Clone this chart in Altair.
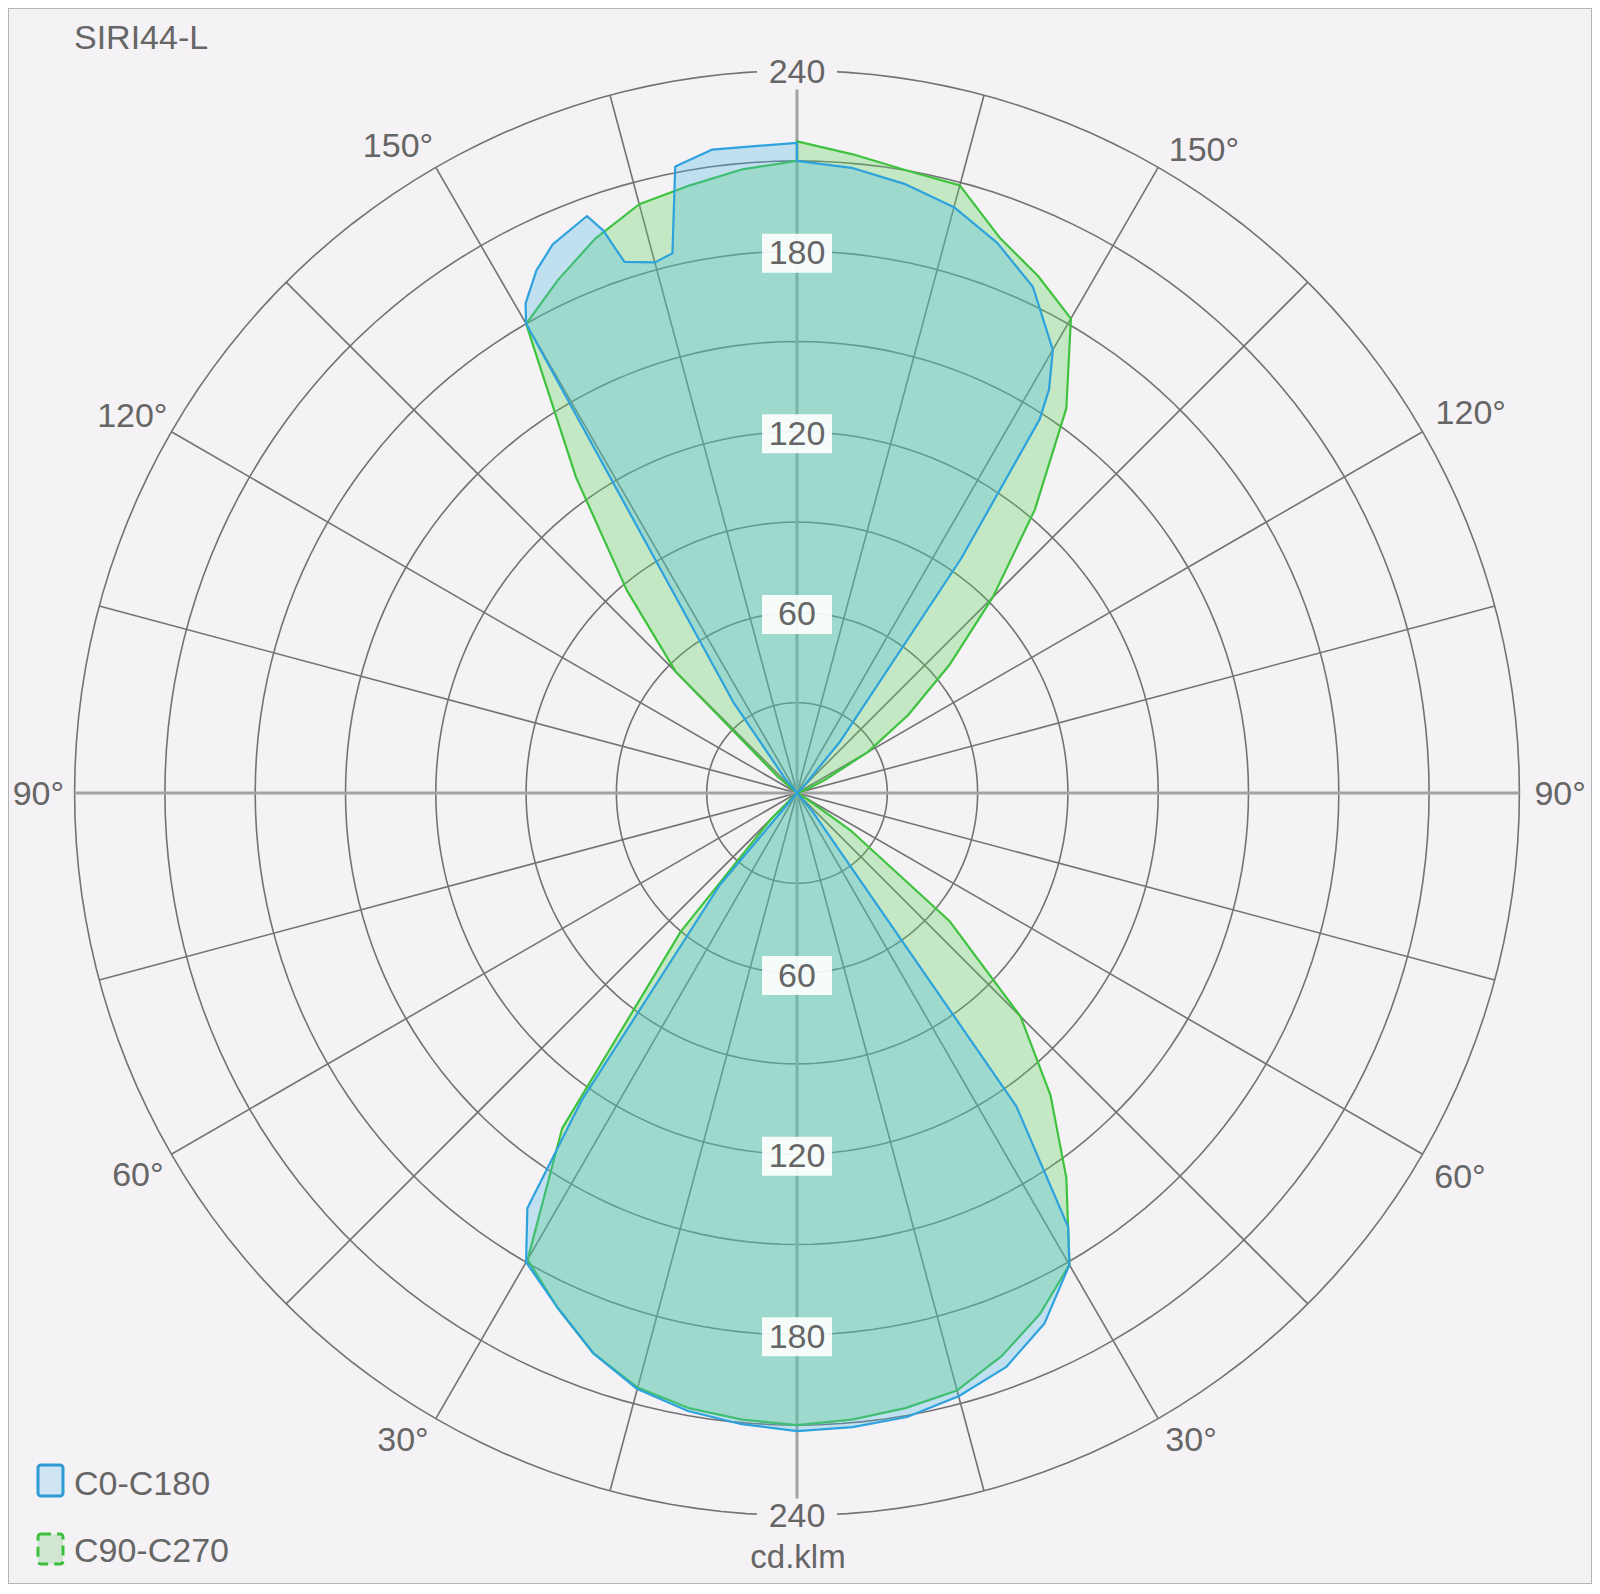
import altair as alt
import pandas as pd

# ---------------- data ----------------
TITLE = "SIRI44-L"
UNIT = "cd.klm"
SERIES = ["C0-C180", "C90-C270"]

# C0 half-plane (right side of blue curve), gamma measured from nadir
C0_GAMMA = [0, 5, 10, 15, 20, 25, 30, 32, 35, 40, 45, 130, 135, 140, 145, 147, 148, 150, 155, 160, 165, 170, 175, 180]
C0_CD = [212, 211.5, 210.5, 207.5, 203, 194.5, 181, 170, 127, 8, 0, 0, 3, 22, 95, 148, 158, 170, 185.5, 194.5, 201.5, 205.5, 208.5, 210]
# C180 half-plane (left side of blue curve)
C180_GAMMA = [0, 5, 10, 15, 20, 25, 30, 33, 35, 40, 45, 135, 140, 145, 150, 151, 153.5, 156, 160, 161, 162, 165, 167, 169, 172.5, 180]
C180_CD = [212, 210.5, 208.5, 205, 198, 188.5, 180, 164.5, 125, 40, 0, 0, 6, 37, 180, 186, 194, 199.5, 204, 197.6, 185.5, 182.5, 184, 212, 215.6, 216]
# C90 half-plane (right side of green curve)
C90_GAMMA = [0, 5, 10, 15, 20, 25, 30, 35, 40, 45, 50, 55, 60, 65, 105, 110, 115, 120, 125, 130, 135, 140, 145, 150, 155, 160, 165, 170, 175, 180]
C90_CD = [210, 209, 207.5, 205.5, 199, 191, 181, 156, 131, 105, 66, 22, 3, 0, 0, 3, 10, 27, 45, 66, 92, 123, 156, 182, 189.5, 196.5, 209, 210, 213, 216.5]
# C270 half-plane (left side of green curve)
C270_GAMMA = [0, 5, 10, 15, 20, 25, 30, 35, 40, 45, 50, 125, 130, 135, 140, 145, 150, 155, 160, 165, 170, 175, 180]
C270_CD = [210, 209, 207.5, 204.5, 198, 188.5, 179, 136, 60, 12, 0, 0, 8, 57, 88, 128, 180, 188, 196, 202.5, 205, 208, 210]

RING_VALUES = [30, 60, 90, 120, 150, 180, 210, 240]
RING_LABELS = [60, 120, 180]
OUTER_LABEL = [240]
SPOKE_ANGLES = [15, 30, 45, 60, 75, 105, 120, 135, 150, 165]
AXIS_ANGLES = [0, 90]
ANGLE_LABELS = [30, 60, 90, 120, 150]

# ---------------- layout ----------------
W, H = 1584, 1576
CX, CY = 789, 785          # pixel position of the pole inside the view
K = 3.01                   # pixels per cd/klm
FONT = "Liberation Sans"
TXT = "#666666"
BG = "#f5f2f5"

XS = alt.Scale(domain=[-CX / K, (W - CX) / K], nice=False, zero=False)
YS = alt.Scale(domain=[-(H - CY) / K, CY / K], nice=False, zero=False)


def X(f):
    return alt.X(f, type="quantitative", scale=XS, axis=None)


def Y(f):
    return alt.Y(f, type="quantitative", scale=YS, axis=None)


def polygon_frame(name, rg, rr, lg, lr):
    rows = []
    for g, r in zip(rg, rr):
        rows.append({"series": name, "gamma": g, "cd": r, "side": 1})
    for g, r in zip(reversed(lg), reversed(lr)):
        rows.append({"series": name, "gamma": g, "cd": r, "side": -1})
    df = pd.DataFrame(rows)
    df["idx"] = range(len(df))
    return df


def shape(df, stroke, fill, op):
    return alt.Chart(df).transform_calculate(
        px="datum.side * datum.cd * sin(datum.gamma * PI / 180)",
        py="-datum.cd * cos(datum.gamma * PI / 180)",
    ).mark_line(
        interpolate="linear-closed", stroke=stroke, strokeWidth=2.2,
        fill=fill, fillOpacity=op, strokeJoin="round"
    ).encode(x=X("px"), y=Y("py"), order=alt.Order("idx:Q"))


blue_df = polygon_frame(SERIES[0], C0_GAMMA, C0_CD, C180_GAMMA, C180_CD)
green_df = polygon_frame(SERIES[1], C90_GAMMA, C90_CD, C270_GAMMA, C270_CD)

green = shape(green_df, "#3fc23f", "#5fd35f", 0.33)
blue = shape(blue_df, "#2ea2dc", "#45b5e5", 0.3)

# grid rings
ring_df = pd.DataFrame([{"ring": v, "t": t} for v in RING_VALUES for t in range(0, 361, 2)])
rings = alt.Chart(ring_df).transform_calculate(
    px="datum.ring * sin(datum.t * PI / 180)",
    py="datum.ring * cos(datum.t * PI / 180)",
).mark_line(stroke="#737373", strokeWidth=1.6).encode(
    x=X("px"), y=Y("py"), detail="ring:N", order=alt.Order("t:Q")
)


def spoke_layer(angles, color, width):
    return alt.Chart(pd.DataFrame({"a": angles})).transform_calculate(
        x1="240 * sin(datum.a * PI / 180)",
        y1="-240 * cos(datum.a * PI / 180)",
        x2="-240 * sin(datum.a * PI / 180)",
        y2="240 * cos(datum.a * PI / 180)",
    ).mark_rule(stroke=color, strokeWidth=width).encode(
        x=X("x1"), y=Y("y1"), x2="x2:Q", y2="y2:Q"
    )


spokes = spoke_layer(SPOKE_ANGLES, "#737373", 1.6)
axes = spoke_layer(AXIS_ANGLES, "#a3a3a3", 3)

# ring value labels
lab_df = pd.DataFrame([{"v": v, "s": s} for v in RING_LABELS for s in (1, -1)])
out_df = pd.DataFrame([{"v": v, "s": s} for v in OUTER_LABEL for s in (1, -1)])

ring_boxes = alt.Chart(lab_df).transform_calculate(
    py="datum.s * datum.v", px="0"
).mark_rect(width=70, height=39, fill="white", opacity=0.9, yOffset=2).encode(x=X("px"), y=Y("py"))
outer_boxes = alt.Chart(out_df).transform_calculate(
    py="datum.s * datum.v", px="0"
).mark_rect(width=80, height=36, fill=BG, yOffset=1).encode(x=X("px"), y=Y("py"))


def value_text(df, dy):
    return alt.Chart(df).transform_calculate(
        py="datum.s * datum.v", px="0"
    ).mark_text(font=FONT, fontSize=34, color=TXT, baseline="middle", dy=dy).encode(
        x=X("px"), y=Y("py"), text=alt.Text("v:Q", format="d")
    )


ring_texts = value_text(lab_df, 3)
outer_texts = value_text(out_df, 2)

# angle labels: right side left-aligned, left side right-aligned


def angle_layer(side, align, dist_expr, ang_expr):
    df = pd.DataFrame({"a": ANGLE_LABELS})
    return alt.Chart(df).transform_calculate(
        d=dist_expr,
        pa=ang_expr,
        px=f"{side} * datum.d * sin(datum.pa * PI / 180)",
        py="-datum.d * cos(datum.pa * PI / 180)",
        lbl="datum.a + '°'",
    ).mark_text(font=FONT, fontSize=34, color=TXT, baseline="middle", align=align, dy=2).encode(
        x=X("px"), y=Y("py"), text="lbl:N"
    )


angle_right = angle_layer(
    1, "left",
    "datum.a == 90 ? 245 : 247",
    "datum.a == 30 ? 29.7 : (datum.a == 60 ? 59 : (datum.a == 120 ? 120.8 : datum.a))",
)
angle_left = angle_layer(
    -1, "right",
    "datum.a == 90 ? 243.5 : (datum.a == 120 ? 244 : (datum.a == 60 ? 245.5 : 247))",
    "datum.a == 30 ? 29.7 : (datum.a == 60 ? 59 : (datum.a == 120 ? 121 : (datum.a == 150 ? 150.7 : datum.a)))",
)

# title, unit
title = alt.Chart(pd.DataFrame({"t": [TITLE]})).mark_text(
    font=FONT, fontSize=34, color=TXT, align="left", baseline="alphabetic"
).encode(x=alt.value(66), y=alt.value(41), text="t:N")

unit = alt.Chart(pd.DataFrame({"t": [UNIT]})).mark_text(
    font=FONT, fontSize=33, color=TXT, align="center", baseline="middle"
).encode(x=alt.value(CX + 1), y=alt.value(1550), text="t:N")

# legend
leg_blue_box = alt.Chart(pd.DataFrame({"s": [SERIES[0]]})).mark_rect(
    fill="#cfe5f5", stroke="#2e9ad6", strokeWidth=3, cornerRadius=3
).encode(x=alt.value(30), x2=alt.value(55), y=alt.value(1457), y2=alt.value(1488))
leg_green_box = alt.Chart(pd.DataFrame({"s": [SERIES[1]]})).mark_rect(
    fill="#d3e6d3", stroke="#3dbf3d", strokeWidth=3, cornerRadius=3, strokeDash=[10, 6]
).encode(x=alt.value(30), x2=alt.value(55), y=alt.value(1526), y2=alt.value(1556))
leg_blue_txt = alt.Chart(pd.DataFrame({"s": [SERIES[0]]})).mark_text(
    font=FONT, fontSize=34, color=TXT, align="left", baseline="middle"
).encode(x=alt.value(66), y=alt.value(1477), text="s:N")
leg_green_txt = alt.Chart(pd.DataFrame({"s": [SERIES[1]]})).mark_text(
    font=FONT, fontSize=34, color=TXT, align="left", baseline="middle"
).encode(x=alt.value(66), y=alt.value(1544), text="s:N")

chart = alt.layer(
    rings, spokes, axes, green, blue,
    ring_boxes, outer_boxes, ring_texts, outer_texts, angle_right, angle_left,
    title, unit, leg_blue_box, leg_green_box, leg_blue_txt, leg_green_txt,
).properties(
    width=W, height=H, background=BG, padding=0,
    autosize=alt.AutoSizeParams(type="none"),
).configure_view(stroke="#b4b4b4", strokeWidth=2)

chart.save("out.html", embed_options={"renderer": "svg", "actions": False})
